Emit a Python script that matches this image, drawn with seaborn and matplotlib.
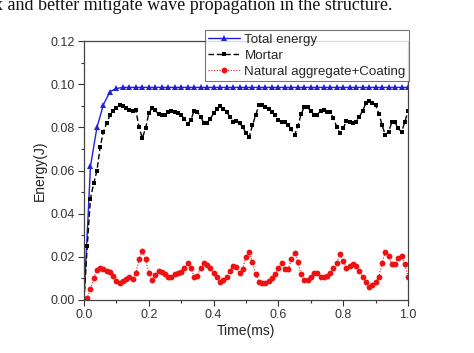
import numpy as np
import pandas as pd
import matplotlib
matplotlib.use("Agg")
import matplotlib.pyplot as plt
import seaborn as sns

# ---- data ----
time_total = [round(0.02 * i, 2) for i in range(51)]
total_energy = [0.0, 0.062, 0.080, 0.0905, 0.0965, 0.0980,
                0.0985, 0.0985, 0.0985, 0.0985, 0.0985, 0.0985, 0.0985, 0.0985, 0.0985,
                0.0985, 0.0985, 0.0985, 0.0985, 0.0985, 0.0985, 0.0985, 0.0985, 0.0985,
                0.0985, 0.0985, 0.0985, 0.0985, 0.0985, 0.0985, 0.0985, 0.0985, 0.0985,
                0.0985, 0.0985, 0.0985, 0.0985, 0.0985, 0.0985, 0.0985, 0.0985, 0.0985,
                0.0985, 0.0985, 0.0985, 0.0985, 0.0985, 0.0985, 0.0985, 0.0985, 0.0985]

time_fine = [round(0.01 * i, 2) for i in range(101)]
mortar = [0.000, 0.025, 0.047, 0.054, 0.060, 0.071, 0.078, 0.082, 0.0855, 0.0877,
          0.0890, 0.0903, 0.0900, 0.0888, 0.0880, 0.0875, 0.0880, 0.0800, 0.0750, 0.0795,
          0.0865, 0.0890, 0.0880, 0.0860, 0.0855, 0.0858, 0.0870, 0.0875, 0.0872, 0.0865,
          0.0855, 0.0840, 0.0815, 0.0835, 0.0877, 0.0872, 0.0850, 0.0818, 0.0822, 0.0840,
          0.0865, 0.0887, 0.0898, 0.0887, 0.0872, 0.0850, 0.0825, 0.0830, 0.0818, 0.0803,
          0.0772, 0.0756, 0.0810, 0.0857, 0.0903, 0.0903, 0.0895, 0.0883, 0.0872, 0.0857,
          0.0833, 0.0823, 0.0826, 0.0810, 0.0790, 0.0764, 0.0806, 0.0861, 0.0895, 0.0892,
          0.0877, 0.0857, 0.0857, 0.0877, 0.0880, 0.0872, 0.0870, 0.0842, 0.0803, 0.0773,
          0.0795, 0.0830, 0.0826, 0.0818, 0.0826, 0.0849, 0.0877, 0.0911, 0.0923, 0.0914,
          0.0903, 0.0864, 0.0811, 0.0764, 0.0779, 0.0823, 0.0823, 0.0795, 0.0779, 0.0823,
          0.0877]
natural = [0.0, 0.0008, 0.0051, 0.0100, 0.0139, 0.0147, 0.0142, 0.0136, 0.0131, 0.0111,
           0.0089, 0.0080, 0.0089, 0.0097, 0.0105, 0.0097, 0.0123, 0.0188, 0.0228, 0.0188,
           0.0126, 0.0093, 0.0116, 0.0136, 0.0131, 0.0120, 0.0108, 0.0108, 0.0120, 0.0126,
           0.0131, 0.0147, 0.0170, 0.0150, 0.0108, 0.0111, 0.0150, 0.0170, 0.0162, 0.0150,
           0.0126, 0.0105, 0.0085, 0.0093, 0.0108, 0.0134, 0.0159, 0.0152, 0.0123, 0.0145,
           0.0200, 0.0221, 0.0177, 0.0119, 0.0085, 0.0080, 0.0080, 0.0088, 0.0100, 0.0120,
           0.0150, 0.0170, 0.0143, 0.0143, 0.0188, 0.0219, 0.0177, 0.0119, 0.0093, 0.0093,
           0.0108, 0.0123, 0.0126, 0.0105, 0.0108, 0.0111, 0.0126, 0.0150, 0.0173, 0.0211,
           0.0180, 0.0150, 0.0157, 0.0167, 0.0157, 0.0134, 0.0108, 0.0085, 0.0062, 0.0069,
           0.0085, 0.0105, 0.0173, 0.0221, 0.0204, 0.0165, 0.0165, 0.0193, 0.0204, 0.0165,
           0.0108]

labels = ["Total energy", "Mortar", "Natural aggregate+Coating"]
x_ticks = [0.0, 0.2, 0.4, 0.6, 0.8, 1.0]
y_ticks = [0.00, 0.02, 0.04, 0.06, 0.08, 0.10, 0.12]

# ---- plot ----
sns.set_style("white")
plt.rcParams["font.family"] = ["Liberation Sans", "DejaVu Sans"]

fig = plt.figure(figsize=(4.74, 3.53), dpi=100)
ax = fig.add_axes([84 / 474, 1 - 300 / 353, 324 / 474, 259 / 353])

df_total = pd.DataFrame({"t": time_total, "E": total_energy})
df_m = pd.DataFrame({"t": time_fine, "E": mortar})
df_n = pd.DataFrame({"t": time_fine, "E": natural})

sns.lineplot(data=df_total, x="t", y="E", ax=ax, color="#2020d8", lw=1.0,
             marker="^", markersize=4, markeredgewidth=0, label=labels[0])
sns.lineplot(data=df_m, x="t", y="E", ax=ax, color="black", lw=1.0,
             linestyle=(0, (4, 2)), marker="s", markersize=3.2, markeredgewidth=0,
             label=labels[1])
sns.lineplot(data=df_n, x="t", y="E", ax=ax, color="#ee1111", lw=0.8,
             linestyle=(0, (1, 1.5)), marker="o", markersize=4.2, markeredgewidth=0,
             label=labels[2])

ax.set_xlim(0, 1.0)
ax.set_ylim(0, 0.12)
ax.set_xticks(x_ticks)
ax.set_xticklabels([f"{v:.1f}" for v in x_ticks])
ax.set_yticks(y_ticks)
ax.set_yticklabels([f"{v:.2f}" for v in y_ticks])
ax.set_xticks(np.arange(0.1, 1.0, 0.2), minor=True)
ax.set_yticks(np.arange(0.01, 0.12, 0.02), minor=True)
ax.tick_params(which="major", direction="out", length=4, width=0.8,
               colors="#333333", labelsize=9, top=False, right=False,
               bottom=True, left=True, pad=2.5)
ax.tick_params(which="minor", direction="out", length=2.5, width=0.8,
               colors="#333333", top=False, right=False, bottom=True, left=True)
for s in ax.spines.values():
    s.set_color("#444444")
    s.set_linewidth(0.9)
ax.set_xlabel("Time(ms)", fontsize=10, color="#222222", labelpad=2)
ax.set_ylabel("Energy(J)", fontsize=10, color="#222222", labelpad=3)

leg = ax.legend(loc="upper right", bbox_to_anchor=(409 / 474, 1 - 30 / 353),
                bbox_transform=fig.transFigure, fontsize=9.6, frameon=True,
                fancybox=False, borderpad=0.25, labelspacing=0.28,
                handlelength=2.4, handletextpad=0.3, borderaxespad=0)
leg.get_frame().set_edgecolor("#555555")
leg.get_frame().set_linewidth(0.8)

fig.text(-0.012, 1 - 5 / 353, "x and better mitigate wave propagation in the structure.",
         family=["Liberation Serif", "DejaVu Serif"], fontsize=13, ha="left",
         va="center", color="#111111")

fig.savefig("out.png", dpi=100)
